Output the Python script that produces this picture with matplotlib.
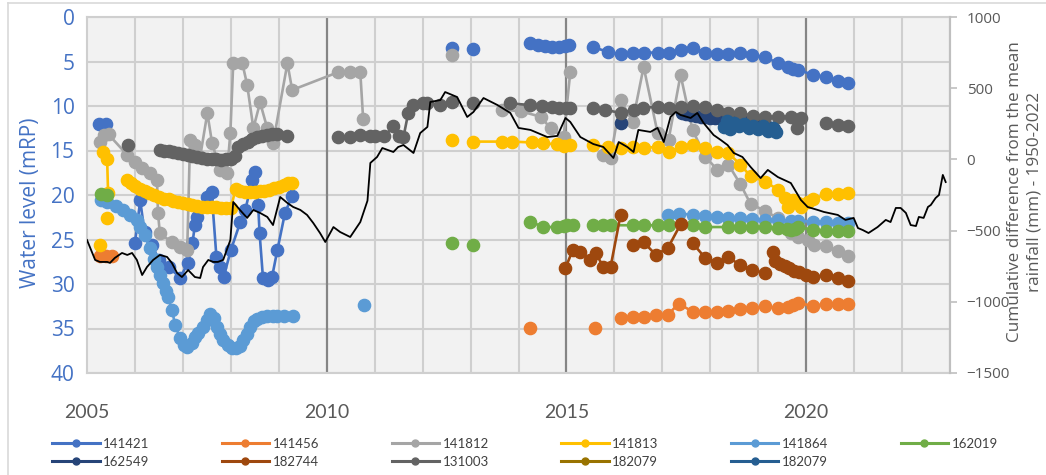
import numpy as np
import matplotlib
matplotlib.use("Agg")
import matplotlib.pyplot as plt
from matplotlib.lines import Line2D

nan = np.nan

# ---------------- data (year, depth in mRP) ----------------
s141421 = [(2005.25, 12.0), (2005.40, 12.0), (nan, nan),
           (2006.00, 25.4), (2006.11, 20.6), (2006.20, 24.2), (2006.35, 25.6), (2006.50, 27.3),
           (2006.70, 28.1), (2006.95, 29.3), (2007.10, 27.6), (2007.20, 25.4), (2007.25, 23.4),
           (2007.30, 22.5), (2007.50, 20.2), (2007.60, 19.7), (2007.70, 27.0), (2007.78, 28.1),
           (2007.85, 29.2), (2008.00, 26.2), (2008.20, 23.0), (2008.30, 21.7), (2008.45, 18.3),
           (2008.50, 17.4), (2008.57, 21.1), (2008.60, 24.3), (2008.67, 29.3), (2008.78, 29.6),
           (2008.86, 29.2), (2008.97, 26.2), (2009.13, 22.0), (2009.28, 20.1), (nan, nan),
           (2012.62, 3.5), (nan, nan), (2013.06, 3.6), (nan, nan),
           (2014.25, 2.9), (2014.40, 3.2), (2014.55, 3.3), (2014.70, 3.4), (2014.85, 3.4),
           (2014.97, 3.3), (2015.05, 3.2), (nan, nan),
           (2015.56, 3.4), (2015.86, 3.9), (2016.13, 4.2), (2016.38, 4.0), (2016.61, 4.0),
           (2016.90, 4.0), (2017.13, 4.1), (2017.38, 3.7), (2017.63, 3.5), (2017.90, 4.0),
           (2018.15, 4.2), (2018.38, 4.2), (2018.63, 4.0), (2018.88, 4.3), (2019.15, 4.5),
           (2019.41, 5.2), (2019.63, 5.6), (2019.72, 5.8), (2019.82, 5.9), (2020.14, 6.5),
           (2020.41, 6.7), (2020.66, 7.2), (2020.87, 7.4)]

s141456 = [(2005.27, 26.8), (2005.40, 26.8), (2005.52, 26.8), (nan, nan),
           (2014.25, 34.9), (nan, nan), (2015.60, 34.9), (nan, nan),
           (2016.13, 33.8), (2016.38, 33.7), (2016.61, 33.7), (2016.86, 33.5), (2017.11, 33.5),
           (2017.34, 32.2), (2017.63, 33.1), (2017.90, 33.1), (2018.15, 33.1), (2018.38, 33.0),
           (2018.63, 32.8), (2018.88, 32.7), (2019.15, 32.5), (2019.41, 32.7), (2019.63, 32.6),
           (2019.72, 32.4), (2019.84, 32.1), (2020.14, 32.5), (2020.41, 32.2), (2020.66, 32.2),
           (2020.87, 32.2)]

s141812 = [(2005.27, 14.0), (2005.35, 13.3), (2005.45, 13.2),
           (2005.84, 15.5), (2006.00, 16.3), (2006.15, 17.0), (2006.32, 17.5), (2006.46, 18.3),
           (2006.48, 22.0), (2006.52, 24.3), (2006.77, 25.3), (2006.94, 25.8), (2007.09, 26.2),
           (2007.15, 13.8), (2007.25, 14.4), (2007.36, 15.7), (2007.51, 10.8), (2007.61, 14.2),
           (2007.78, 17.2), (2007.92, 17.5), (2007.99, 13.0), (2008.05, 5.2), (2008.24, 5.2),
           (2008.34, 7.6), (2008.47, 12.5), (2008.61, 9.6), (2008.76, 12.5), (2008.88, 14.2),
           (2009.18, 5.2), (2009.28, 8.2), (2010.24, 6.2), (2010.49, 6.2), (2010.70, 6.2),
           (2010.76, 11.5), (nan, nan),
           (2012.62, 4.3), (nan, nan),
           (2013.66, 10.4), (2014.05, 10.6), (2014.46, 11.2), (2014.67, 12.5), (2014.94, 13.5),
           (2015.08, 6.2), (nan, nan),
           (2015.77, 15.5), (2015.92, 15.8), (2016.13, 9.3), (2016.38, 11.8), (2016.61, 5.6),
           (2016.90, 13.0), (2017.13, 13.8), (2017.38, 6.5), (2017.63, 12.7), (2017.90, 15.7),
           (2018.15, 17.2), (2018.38, 16.6), (2018.63, 18.8), (2018.84, 21.0), (2019.15, 21.8),
           (2019.41, 22.6), (2019.68, 24.3), (2019.84, 24.7), (2020.03, 25.1), (2020.16, 25.6),
           (2020.41, 25.7), (2020.66, 26.3), (2020.87, 26.9)]

s141813 = [(2005.27, 25.6), (nan, nan),
           (2005.33, 15.2), (2005.42, 16.0), (2005.44, 19.8), (nan, nan), (2005.42, 22.6), (nan, nan),
           (2005.84, 18.3), (2005.92, 18.7), (2006.00, 19.0), (2006.10, 19.3), (2006.20, 19.5),
           (2006.30, 19.8), (2006.40, 20.0), (2006.50, 20.2), (2006.60, 20.4), (2006.70, 20.5),
           (2006.80, 20.7), (2006.90, 20.8), (2007.00, 20.9), (2007.10, 21.0), (2007.20, 21.1),
           (2007.30, 21.2), (2007.40, 21.3), (2007.50, 21.3), (2007.60, 21.4), (2007.70, 21.4),
           (2007.80, 21.5), (2007.90, 21.5), (2008.00, 21.5), (2008.10, 19.3), (2008.20, 19.6),
           (2008.30, 19.7), (2008.40, 19.7), (2008.50, 19.7), (2008.60, 19.6), (2008.70, 19.5),
           (2008.80, 19.4), (2008.90, 19.2), (2009.00, 19.1), (2009.10, 18.9), (2009.20, 18.7),
           (2009.28, 18.6), (nan, nan),
           (2012.62, 13.8), (nan, nan),
           (2013.06, 14.0), (2013.66, 14.0), (2013.87, 14.0), (2014.29, 14.1), (2014.52, 14.2),
           (2014.81, 14.3), (2014.94, 14.5), (2015.08, 14.4), (nan, nan),
           (2015.56, 14.4), (2015.86, 14.6), (2016.13, 14.7), (2016.38, 14.6), (2016.61, 14.7),
           (2016.90, 14.6), (2017.13, 15.2), (2017.38, 14.6), (2017.63, 14.4), (2017.90, 14.7),
           (2018.15, 15.2), (2018.38, 15.3), (2018.63, 16.6), (2018.84, 17.9), (2019.15, 18.5),
           (2019.41, 19.4), (2019.55, 20.3), (2019.63, 21.3), (2019.72, 20.6), (2019.82, 20.9),
           (2019.90, 21.4), (2020.03, 20.8), (2020.14, 20.5), (2020.41, 19.9), (2020.66, 19.9),
           (2020.87, 19.8)]

s141864 = [(2005.30, 20.6), (2005.42, 20.8), (2005.60, 21.2), (2005.75, 21.7), (2005.90, 22.2),
           (2006.04, 22.8), (2006.11, 23.6), (2006.20, 24.5), (2006.32, 26.0), (2006.40, 27.2),
           (2006.46, 28.1), (2006.52, 29.0), (2006.59, 29.9), (2006.65, 30.8), (2006.69, 31.5),
           (2006.77, 32.9), (2006.84, 34.6), (2006.94, 36.1), (2007.02, 36.8), (2007.09, 37.1),
           (2007.19, 36.6), (2007.26, 36.0), (2007.32, 35.5), (2007.42, 34.8), (2007.51, 34.1),
           (2007.57, 33.4), (2007.64, 33.8), (2007.71, 34.8), (2007.78, 35.6), (2007.84, 36.3),
           (2007.94, 36.9), (2008.03, 37.2), (2008.11, 37.2), (2008.19, 37.0), (2008.26, 36.3),
           (2008.34, 35.6), (2008.40, 34.8), (2008.48, 34.2), (2008.55, 33.9), (2008.65, 33.7),
           (2008.76, 33.6), (2008.87, 33.6), (2008.97, 33.6), (2009.10, 33.6), (2009.30, 33.6),
           (nan, nan),
           (2010.78, 32.4), (nan, nan),
           (2017.11, 22.2), (2017.34, 22.1), (2017.63, 22.2), (2017.90, 22.4), (2018.15, 22.5),
           (2018.38, 22.6), (2018.63, 22.6), (2018.88, 22.7), (2019.15, 22.8), (2019.41, 22.8),
           (2019.68, 22.9), (2019.84, 22.9), (2020.14, 23.0), (2020.41, 23.0), (2020.66, 23.1),
           (2020.87, 23.1)]

s162019 = [(2005.30, 19.9), (2005.42, 20.0), (nan, nan),
           (2012.62, 25.4), (nan, nan), (2013.06, 25.6), (nan, nan),
           (2014.25, 23.0), (2014.52, 23.6), (2014.81, 23.6), (2014.94, 23.5), (2015.02, 23.4),
           (2015.13, 23.4), (nan, nan),
           (2015.56, 23.4), (2015.77, 23.4), (2015.92, 23.4), (2016.38, 23.4), (2016.61, 23.4),
           (2016.90, 23.4), (2017.13, 23.4), (2017.63, 23.4), (2017.90, 23.6), (2018.38, 23.6),
           (2018.63, 23.6), (2018.88, 23.6), (2019.15, 23.6), (2019.41, 23.7), (2019.60, 23.8),
           (2019.68, 23.9), (2019.76, 23.8), (2019.84, 23.6), (2020.14, 23.9), (2020.41, 24.0),
           (2020.66, 24.0), (2020.87, 24.0)]

s162549 = [(2016.13, 11.9), (nan, nan),
           (2017.40, 10.8), (2017.50, 10.9), (2017.60, 11.0), (2017.70, 11.1), (2017.80, 11.2),
           (2017.90, 11.2), (2018.00, 11.3), (2018.10, 11.4), (2018.20, 11.4), (2018.30, 11.5),
           (2018.40, 11.6), (2018.50, 11.6), (2018.60, 11.7), (2018.70, 11.8), (2018.80, 11.9),
           (2018.90, 12.0), (2019.00, 12.1), (2019.10, 12.2), (2019.20, 12.4), (2019.32, 12.6)]

s182744 = [(2014.98, 28.2), (2015.13, 26.2), (2015.29, 26.4), (2015.50, 27.3), (2015.61, 26.5),
           (2015.77, 28.1), (2015.92, 28.1), (2016.13, 22.2), (nan, nan),
           (2016.38, 25.6), (2016.61, 25.3), (2016.86, 26.7), (2017.11, 26.0), (2017.38, 23.3),
           (nan, nan),
           (2017.63, 25.4), (2017.90, 27.1), (2018.15, 27.6), (2018.38, 27.0), (2018.63, 27.9),
           (2018.88, 28.4), (2019.15, 28.8), (nan, nan),
           (2019.30, 26.4), (2019.35, 27.4), (2019.45, 27.7), (2019.55, 28.0), (2019.65, 28.2),
           (2019.75, 28.5), (2019.85, 28.7), (2020.00, 29.0), (2020.14, 29.2), (2020.41, 29.0),
           (2020.66, 29.3), (2020.87, 29.7)]

s131003 = [(2005.86, 14.4), (nan, nan),
           (2006.52, 14.9), (2006.60, 15.0), (2006.70, 15.1), (2006.80, 15.2), (2006.90, 15.3),
           (2007.00, 15.4), (2007.10, 15.5), (2007.20, 15.6), (2007.30, 15.7), (2007.40, 15.8),
           (2007.50, 15.9), (2007.60, 16.0), (2007.70, 16.0), (2007.80, 16.1), (2007.90, 16.0),
           (2008.00, 15.9), (2008.08, 15.6), (2008.15, 14.6), (2008.25, 14.3), (2008.35, 14.0),
           (2008.45, 13.7), (2008.55, 13.5), (2008.65, 13.4), (2008.75, 13.3), (2008.85, 13.2),
           (2008.97, 13.1), (2009.18, 13.4), (nan, nan),
           (2010.24, 13.5), (2010.49, 13.5), (2010.70, 13.3), (2010.90, 13.4), (2011.00, 13.4),
           (2011.20, 13.4), (2011.39, 12.3), (2011.50, 13.4), (2011.60, 13.5), (2011.70, 10.8),
           (2011.80, 9.9), (2012.00, 9.7), (2012.10, 9.7), (2012.37, 9.9), (2012.62, 9.6),
           (nan, nan), (2013.06, 9.7), (nan, nan),
           (2013.83, 9.7), (2014.25, 9.9), (2014.50, 10.0), (2014.70, 10.1), (2014.85, 10.2),
           (2015.00, 10.2), (2015.08, 10.2), (nan, nan),
           (2015.56, 10.2), (2015.80, 10.4), (2016.13, 10.8), (2016.40, 10.4), (2016.60, 10.2),
           (2016.90, 10.1), (2017.13, 10.2), (2017.38, 10.1), (2017.63, 10.0), (2017.90, 10.1),
           (2018.15, 10.4), (2018.38, 10.8), (2018.63, 10.8), (2018.90, 11.1), (2019.15, 11.2),
           (2019.41, 11.2), (2019.68, 11.2), (2019.80, 12.5), (2019.90, 11.3), (nan, nan),
           (2020.41, 11.9), (2020.66, 12.1), (2020.87, 12.2)]

s182079_a = []

s182079_b = [(2018.28, 12.4), (2018.35, 11.7), (2018.42, 12.6), (2018.50, 11.9), (2018.60, 12.3),
             (2018.70, 12.0), (2018.80, 12.5), (2018.90, 12.2), (2019.00, 12.6), (2019.10, 12.3),
             (2019.20, 12.8), (2019.30, 12.5), (2019.38, 12.9)]

# cumulative difference from the mean rainfall (mm), secondary axis
rain = [(2005.00, -566), (2005.17, -706), (2005.27, -720), (2005.42, -720), (2005.48, -727),
        (2005.58, -692), (2005.73, -657), (2005.84, -671), (2005.94, -657), (2006.04, -706),
        (2006.15, -812), (2006.25, -756), (2006.38, -706), (2006.52, -671), (2006.67, -685),
        (2006.77, -727), (2006.88, -798), (2006.98, -826), (2007.11, -777), (2007.25, -826),
        (2007.36, -833), (2007.42, -756), (2007.53, -706), (2007.63, -720), (2007.73, -720),
        (2007.84, -706), (2007.99, -566), (2008.05, -299), (2008.19, -355), (2008.34, -411),
        (2008.47, -355), (2008.61, -376), (2008.76, -404), (2008.88, -461), (2009.03, -264),
        (2009.18, -306), (2009.30, -334), (2009.45, -355), (2009.59, -390), (2009.72, -447),
        (2009.86, -517), (2009.97, -580), (2010.14, -475), (2010.28, -510), (2010.49, -545),
        (2010.70, -440), (2010.85, -290), (2010.91, -25), (2011.05, 17), (2011.16, 80),
        (2011.39, 52), (2011.49, 87), (2011.60, 101), (2011.81, 45), (2011.95, 185),
        (2012.10, 228), (2012.16, 403), (2012.37, 417), (2012.47, 473), (2012.72, 438),
        (2012.93, 298), (2013.06, 333), (2013.27, 431), (2013.56, 382), (2013.83, 326),
        (2014.00, 221), (2014.25, 207), (2014.60, 157), (2014.81, 165), (2014.98, 291),
        (2015.08, 263), (2015.29, 157), (2015.56, 108), (2015.77, 87), (2015.98, 10),
        (2016.09, 122), (2016.27, 87), (2016.40, 52), (2016.50, 207), (2016.75, 193),
        (2016.90, 221), (2017.03, 122), (2017.17, 298), (2017.28, 333), (2017.38, 312),
        (2017.59, 291), (2017.73, 326), (2017.86, 256), (2018.07, 171), (2018.22, 136),
        (2018.36, 101), (2018.49, 45), (2018.67, 17), (2018.84, -53), (2019.05, -131),
        (2019.20, -74), (2019.41, -124), (2019.68, -166), (2019.89, -285), (2020.03, -334),
        (2020.24, -355), (2020.37, -369), (2020.66, -390), (2020.82, -425), (2020.99, -411),
        (2021.08, -482), (2021.18, -496), (2021.30, -517), (2021.49, -475), (2021.66, -425),
        (2021.76, -440), (2021.87, -341), (2021.97, -341), (2022.08, -376), (2022.18, -461),
        (2022.29, -468), (2022.35, -404), (2022.45, -411), (2022.54, -334), (2022.60, -320),
        (2022.70, -271), (2022.77, -250), (2022.85, -109), (2022.91, -159)]

series_names = ["141421", "141456", "141812", "141813", "141864", "162019",
                "162549", "182744", "131003", "182079", "182079"]
series_data = [s141421, s141456, s141812, s141813, s141864, s162019,
               s162549, s182744, s131003, s182079_a, s182079_b]
series_colors = ["#4472C4", "#ED7D31", "#A5A5A5", "#FFC000", "#5B9BD5", "#70AD47",
                 "#264478", "#9E480E", "#636363", "#997300", "#255E91"]

x_major = [2005, 2010, 2015, 2020]
left_ticks = [0, 5, 10, 15, 20, 25, 30, 35, 40]
right_ticks = [-1500, -1000, -500, 0, 500, 1000]

# ---------------- figure ----------------
W, H = 1046, 475
fig = plt.figure(figsize=(W / 100, H / 100), dpi=100)
fig.patch.set_facecolor("white")

L, R, T, B = 87, 950, 17, 373
ax = fig.add_axes([L / W, 1 - B / H, (R - L) / W, (B - T) / H])
ax.set_facecolor("#f2f2f2")
ax.set_xlim(2005, 2023)
ax.set_ylim(40, 0)
ax.set_xticks(x_major)
ax.set_xticks(list(range(2005, 2024)), minor=True)
ax.set_yticks(left_ticks)
ax.set_axisbelow(True)
ax.grid(which="minor", axis="x", color="#cfcfcf", lw=1.5)
ax.grid(which="major", axis="y", color="#cfcfcf", lw=1.5)
for yr in x_major[1:]:
    ax.axvline(yr, color="#858585", lw=1.6, zorder=0.6)
for sp in ax.spines.values():
    sp.set_color("#cfcfcf")
    sp.set_linewidth(1.5)

ax.tick_params(axis="x", which="both", length=0, labelsize=14, labelcolor="#595959", pad=22)
ax.tick_params(axis="y", length=0, labelsize=15, labelcolor="#4472C4", pad=9)
for lab in ax.get_xticklabels():
    lab.set_fontfamily("Lato")
for lab in ax.get_yticklabels():
    lab.set_fontfamily("Open Sans")

handles = []
for name, data, col in zip(series_names, series_data, series_colors):
    if data:
        xs = [p[0] for p in data]
        ys = [p[1] for p in data]
        ax.plot(xs, ys, color=col, lw=1.9, marker="o", ms=8.8, mec=col, mfc=col, zorder=3)
    handles.append(Line2D([], [], color=col, lw=2.2, marker="o", ms=5, mec=col, mfc=col))

ax2 = ax.twinx()
ax2.set_ylim(-1500, 1000)
ax2.set_yticks(right_ticks)
ax2.plot([p[0] for p in rain], [p[1] for p in rain], color="black", lw=1.3, zorder=5)
for sp in ["top", "left", "bottom"]:
    ax2.spines[sp].set_visible(False)
ax2.spines["right"].set_color("#bfbfbf")
ax2.spines["right"].set_linewidth(1.5)
ax2.tick_params(axis="y", direction="out", length=5, width=1.2, color="#bfbfbf",
                labelsize=11, labelcolor="#595959", pad=7)
for lab in ax2.get_yticklabels():
    lab.set_fontfamily("Open Sans")

fig.text(31 / W, 1 - 203 / H, "Water level (mRP)", rotation=90, color="#4472C4",
         fontsize=15, family="Open Sans", ha="center", va="center")
fig.text(1025 / W, 1 - 192 / H, "Cumulative difference from the mean\nrainfall (mm) - 1950-2022",
         rotation=90, color="#595959", fontsize=12.3, family="Open Sans",
         ha="center", va="center", multialignment="center", linespacing=1.3)

# outer frame lines
fig.add_artist(Line2D([8 / W, 8 / W], [0, 1 - 3 / H], color="#d9d9d9", lw=1.2,
                      transform=fig.transFigure))
fig.add_artist(Line2D([8 / W, 1], [1 - 3 / H, 1 - 3 / H], color="#d9d9d9", lw=1.2,
                      transform=fig.transFigure))

# legend laid out row by row (matplotlib fills columns first)
order = [0, 6, 1, 7, 2, 8, 3, 9, 4, 10, 5]
leg = fig.legend([handles[i] for i in order], [series_names[i] for i in order],
                 ncol=6, loc="upper left",
                 bbox_to_anchor=(52 / W, 1 - 438 / H), frameon=False,
                 prop={"family": "Lato", "size": 9.5}, handlelength=3.6,
                 handletextpad=0.25, columnspacing=5.5, labelspacing=0.45,
                 borderpad=0, borderaxespad=0)
for t in leg.get_texts():
    t.set_color("#404040")

fig.savefig("out.png", dpi=100, facecolor="white")
